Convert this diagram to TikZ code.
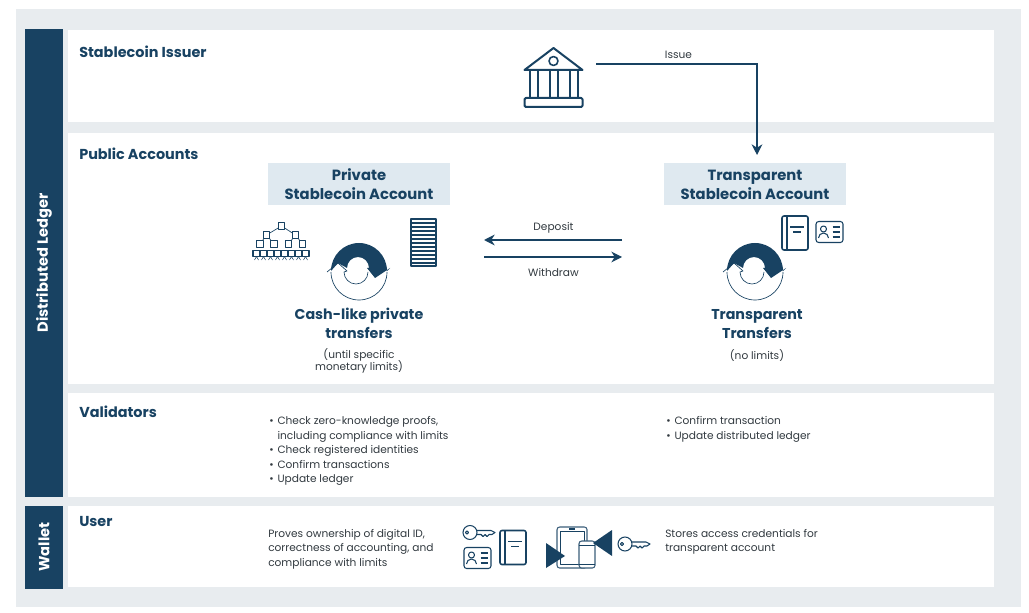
\documentclass[tikz,border=0pt]{standalone}
\usepackage{fontspec}
\setmainfont{Poppins}
\usetikzlibrary{positioning, arrows.meta, calc}
\definecolor{ledger_navy}{RGB}{24, 66, 98}
\definecolor{panel_grey}{RGB}{232, 236, 239}
\definecolor{head_blue}{RGB}{223, 233, 240}
\definecolor{body_grey}{RGB}{50, 58, 64}
\newcommand{\vitem}[1]{\makebox[6.2pt][l]{\textbullet}#1}

\tikzset{
  bankicon/.pic={
    \draw[iconline, line width=1.5pt] (-29,-7) -- (0,-29) -- (29,-7) -- cycle;
    \draw[iconline, line width=1.2pt] (0,-16) circle (4.5);
    \foreach \cx in {-24,-4,16}
      \draw[iconline, line width=1.5pt] (\cx,-7) rectangle ++(8,28);
    \draw[iconline, line width=1.5pt, rounded corners=1pt] (-29,21) rectangle (29,30);
  },
  cycleicon/.pic={
    \draw[iconline, line width=.5pt] (-32,3) -- (-21,-6) -- (-12,2) -- (-15,3)
      arc (180:0:12);
    \draw[iconline, line width=.5pt] (-28,3) arc (180:0:28);
    \fill[ledger_navy] (-28,2) arc (180:360:28) -- (31,-1) -- (16,9) -- (8,-1) -- (10,-1)
      arc (0:-180:11) -- (-21,-6) -- cycle;
  },
  keyicon/.pic={
    \draw[iconline] (0,0) circle (7);
    \draw[iconline] (-3,0) circle (1.6);
    \draw[iconline] (6.8,-2) -- (21,-2) -- (25,0) -- (22,2) -- (19,2) -- (17,4) -- (15,2) -- (13,4) -- (11,2) -- (6.8,2);
  },
  idicon/.pic={
    \draw[iconline, rounded corners=2pt] (-13.5,-10.5) rectangle (13.5,10.5);
    \draw[iconline] (-6,-3) circle (3);
    \draw[iconline] (-11,6) arc (180:360:5);
    \foreach \ly in {-5,0,5}
      \draw[iconline] (3,\ly) -- (10,\ly);
  },
  bookicon/.pic={
    \draw[iconline, rounded corners=1.5pt, line width=1.2pt] (-13,-17) rectangle (13,17);
    \draw[iconline, line width=1.2pt] (-8,-17) -- (-8,17);
    \draw[iconline, line width=1.2pt] (-5,-6) -- (9,-6);
    \draw[iconline, line width=1.2pt] (-2,-1) -- (6,-1);
  },
  treeicon/.pic={
    \foreach \bx/\by/\px/\py in {-14.5/-18.5/0.5/-27.5, 14.5/-18.5/0.5/-27.5,
        -21/-9.5/-14.5/-18.5, -7/-9.5/-14.5/-18.5, 7.5/-9.5/14.5/-18.5, 21.5/-9.5/14.5/-18.5}
      \draw[iconline, line width=.5pt] (\bx,\by) -- (\px,\py);
    \foreach \bx/\by in {0.5/-27.5, -14.5/-18.5, 14.5/-18.5, -21/-9.5, -7/-9.5, 7.5/-9.5, 21.5/-9.5}
      \draw[iconline, fill=white] (\bx-3.2,\by-3.2) rectangle ++(6.4,6.4);
    \foreach \bx in {-24.5,-17.5,...,25}{
      \draw[iconline, line width=.4pt] (\bx-2,6.5) -- (\bx,3) -- (\bx+2,6.5);
      \draw[iconline, fill=white] (\bx-3.5,-3.2) rectangle ++(7,6.4);
    }
  },
  stackicon/.pic={
    \draw[iconline] (0,0) rectangle (25,47);
    \foreach \ly in {4,8,...,44}
      \draw[iconline, line width=1pt] (0,\ly) -- (25,\ly);
  },
  tableticon/.pic={
    \draw[iconline, rounded corners=2pt, draw=ledger_navy!85] (0,0) rectangle (30,41);
    \draw[iconline, line width=.5pt] (3,4) rectangle (27,37);
    \draw[iconline, line width=1pt] (12,2) -- (18,2);
    \draw[iconline, rounded corners=2pt, fill=white, draw=ledger_navy!85] (22,14) rectangle (38,41);
    \draw[iconline, line width=.5pt] (22,37) -- (38,37);
    \draw[iconline, line width=.5pt] (22,18) -- (38,18);
  }
}

\begin{document}
\begin{tikzpicture}[x=.75pt, y=-.75pt, >=Stealth,
    panel/.style={fill=white, draw=none},
    sidebar/.style={fill=ledger_navy, draw=none},
    iconline/.style={draw=ledger_navy, line width=.8pt, line join=round},
    flow/.style={draw=ledger_navy, line width=1pt, -{Stealth[length=8pt, width=8pt]}},
    sidelabel/.style={font=\fontsize{11}{13}\selectfont\bfseries, text=white, rotate=90},
    rowhead/.style={font=\fontsize{10.8}{13}\selectfont\bfseries, text=ledger_navy, anchor=west, inner sep=0pt},
    accthead/.style={fill=head_blue, minimum width=136.5pt, minimum height=31.5pt, inner sep=0pt, align=center,
      font=\fontsize{11.1}{14.2}\selectfont\bfseries, text=ledger_navy},
    bigcap/.style={font=\fontsize{10.7}{14.2}\selectfont\bfseries, text=ledger_navy, align=center, inner sep=0pt},
    smallcap/.style={font=\fontsize{7.95}{9}\selectfont, text=body_grey, align=center, inner sep=0pt},
    bodytext/.style={font=\fontsize{7.95}{10.8}\selectfont, text=body_grey, align=left, anchor=north west, inner sep=0pt},
    flowlabel/.style={font=\fontsize{7.95}{9}\selectfont, text=body_grey, inner sep=0pt}]

    \useasboundingbox (0,0) rectangle (1029,613);
    \fill[panel_grey] (16,9) rectangle (1021,607);

    %% ---- bands ----------------------------------------------------------
    \fill[panel] (68,30) rectangle (994,122);
    \fill[panel] (68,133) rectangle (994,384);
    \fill[panel] (68,393) rectangle (994,497);
    \fill[panel] (68,506) rectangle (994,587);
    \fill[sidebar] (25,29) rectangle (63,497);
    \fill[sidebar] (25,506) rectangle (63,589);

    \node[sidelabel] (ledgerlabel) at (44,263) {Distributed Ledger};
    \node[sidelabel] (walletlabel) at (44,547) {Wallet};

    \node[rowhead] (issuerhead) at (79,52) {Stablecoin Issuer};
    \node[rowhead] (publichead) at (79,154) {Public Accounts};
    \node[rowhead] (validhead) at (79,412) {Validators};
    \node[rowhead] (userhead) at (79,522) {User};

    %% ---- issuer and accounts --------------------------------------------
    \pic at (553.5,77) {bankicon};
    \node[accthead] (privhead) at (359,184) {\vphantom{Pi}Private\\Stablecoin Account};
    \node[accthead] (transhead) at (755,184) {\vphantom{Pi}Transparent\\Stablecoin Account};

    \pic at (281,253.5) {treeicon};
    \pic at (411,219) {stackicon};
    \pic at (359,269) {cycleicon};
    \pic at (755,269) {cycleicon};
    \pic at (795,233) {bookicon};
    \pic at (829.5,232) {idicon};

    \node[bigcap] (privcap) at (359,323.5) {\vphantom{Cl}Cash-like private\\transfers};
    \node[smallcap] (privlimit) at (359,361) {(until specific\\[-2pt]monetary limits)};
    \node[bigcap] (transcap) at (757,323.5) {\vphantom{Cl}Transparent\\Transfers};
    \node[smallcap] (translimit) at (757,355.5) {(no limits)};

    %% ---- connectors -----------------------------------------------------
    \coordinate (issuefrom) at (596,64);
    \coordinate (issueto) at (757,155);
    \coordinate (depfrom) at (622,240);
    \coordinate (depto) at (484,240);
    \coordinate (withfrom) at (484,257);
    \coordinate (withto) at (622,257);
    \draw[flow] (issuefrom) -| (issueto);
    \draw[flow] (depfrom) -- (depto);
    \draw[flow] (withfrom) -- (withto);
    \node[flowlabel] (issuelabel) at (678.5,54.5) {Issue};
    \node[flowlabel] (deplabel) at (553.5,227.5) {Deposit};
    \node[flowlabel] (withlabel) at (553.5,273) {Withdraw};

    %% ---- validators -----------------------------------------------------
    \node[bodytext] (privcheck) at (269,416.5)
      {\vitem{Check zero-knowledge proofs,}\\\hspace*{6.2pt}including compliance with limits\\
       \vitem{Check registered identities}\\\vitem{Confirm transactions}\\\vitem{Update ledger}};
    \node[bodytext] (transcheck) at (666,416.5)
      {\vitem{Confirm transaction}\\\vitem{Update distributed ledger}};

    %% ---- wallet ---------------------------------------------------------
    \node[bodytext] (privproof) at (268,529)
      {Proves ownership of digital ID,\\correctness of accounting, and\\compliance with limits};
    \node[bodytext] (transstore) at (665,529)
      {Stores access credentials for\\transparent account};
    \pic at (470,532.5) {keyicon};
    \pic at (477.5,558) {idicon};
    \pic at (513,547.5) {bookicon};
    \pic at (557,527) {tableticon};
    \pic at (625,544) {keyicon};
    \fill[ledger_navy] (546,543) -- (565,556) -- (546,568) -- cycle;
    \fill[ledger_navy] (593,543) -- (612,530) -- (612,556) -- cycle;
\end{tikzpicture}
\end{document}
